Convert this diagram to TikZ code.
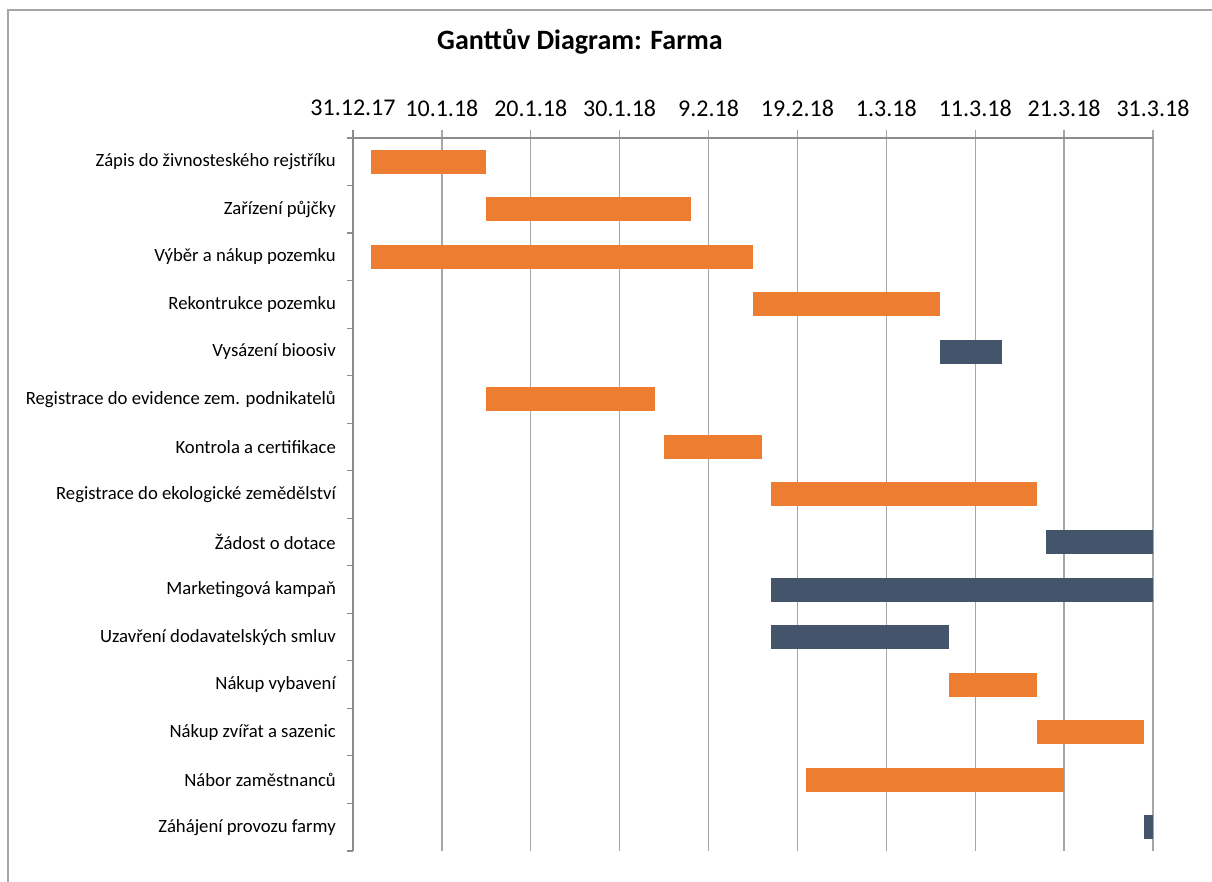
\documentclass[tikz,border=0pt]{standalone}
\usepackage{fontspec}
\setmainfont{Carlito}
\usepackage{tikz}
\definecolor{plan}{HTML}{ED7D31}
\definecolor{ops}  {HTML}{44546A}
\definecolor{grid} {HTML}{A6A6A6}
\definecolor{axis} {HTML}{8C8C8C}
\definecolor{frame}{HTML}{A6A6A6}

\begin{document}
\begin{tikzpicture}[x=1pt,y=-1pt,
  task/.style={anchor=east,inner sep=0pt,font=\fontsize{18.7}{21}\selectfont},
  day/.style={inner sep=0pt,font=\fontsize{24}{28}\selectfont},
  gl/.style={color=grid,line width=1.3pt},
  ax/.style={color=axis,line width=1.2pt}]
  \useasboundingbox (0,0) rectangle (1212,882);
  \draw[color=frame,line width=1.2pt] (8,882) -- (8,10) -- (1212,10);

  \node[font=\fontsize{28}{32}\bfseries\selectfont] (title) at (580,42)
    {Ganttův Diagram: Farma};

  \foreach \d [count=\k from 0] in {31.12.17,10.1.18,20.1.18,30.1.18,9.2.18,
                                    19.2.18,1.3.18,11.3.18,21.3.18,31.3.18}{
    \node[day] (d\k) at ({353+88.89*\k},108) {\d};
    \draw[gl] ({353+88.89*\k},130) -- ({353+88.89*\k},851);}

  \draw[ax] (353,130) -- (353,851);
  \draw[ax] (347,138) -- (1153,138);
  \foreach \r in {1,...,15}
    \draw[ax] (347,{138+47.53*\r}) -- (353,{138+47.53*\r});

  \foreach \n/\a/\b/\c [count=\i] in {
      {Zápis do živnosteského rejstříku}/2/15/plan,
      {Zařízení půjčky}/15/38/plan,
      {Výběr a nákup pozemku}/2/45/plan,
      {Rekontrukce pozemku}/45/66/plan,
      {Vysázení bioosiv}/66/73/ops,
      {Registrace do evidence zem. podnikatelů}/15/34/plan,
      {Kontrola a certifikace}/35/46/plan,
      {Registrace do ekologické zemědělství}/47/77/plan,
      {Žádost o dotace}/78/90/ops,
      {Marketingová kampaň}/47/90/ops,
      {Uzavření dodavatelských smluv}/47/67/ops,
      {Nákup vybavení}/67/77/plan,
      {Nákup zvířat a sazenic}/77/89/plan,
      {Nábor zaměstnanců}/51/80/plan,
      {Záhájení provozu farmy}/89/90/ops}{
    \node[task] (t\i) at (336,{138+47.53*(\i-0.5)}) {\n};
    \fill[\c] ({353+8.889*\a},{138+47.53*(\i-0.5)-12})
      rectangle ({353+8.889*\b},{138+47.53*(\i-0.5)+12});}
\end{tikzpicture}
\end{document}
